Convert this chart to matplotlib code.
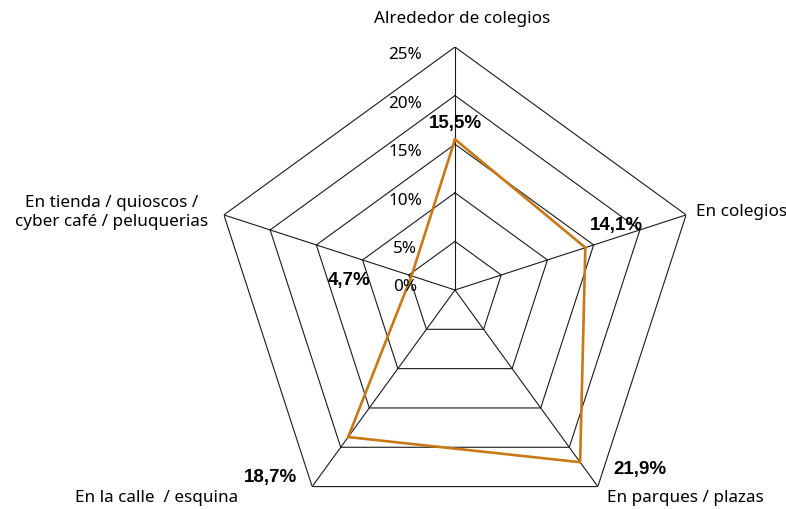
import numpy as np
import matplotlib
matplotlib.use("Agg")
import matplotlib.pyplot as plt

# lugares donde se reporta el consumo (%)
categories = [
    "Alrededor de colegios",
    "En colegios",
    "En parques / plazas",
    "En la calle  / esquina",
    "En tienda / quioscos /\ncyber café / peluquerias",
]
values = [15.5, 14.1, 21.9, 18.7, 4.7]
levels = [0, 5, 10, 15, 20, 25]

# where each text goes, relative to its anchor (pixels)
value_offsets = [(0, 17), (31, 23), (60, -6), (-78, -39), (-62, -4)]
cat_offsets = [(7, 29), (10, 4), (9, -10), (-74, -10), (-112, 3)]
cat_align = ["center", "left", "left", "right", "center"]

line_color = "#C87814"
grid_color = "#1a1a1a"

fig = plt.figure(figsize=(7.86, 5.10), dpi=100)
ax = fig.add_axes([212 / 786, -24 / 510, 486 / 786, 486 / 510], polar=True)
ax.set_theta_offset(np.pi / 2)
ax.set_theta_direction(-1)
ax.set_ylim(0, 25)
ax.grid(False)
ax.set_xticks([])
ax.set_yticks([])
ax.spines["polar"].set_visible(False)
ax.patch.set_visible(False)

n = len(categories)
angles = np.arange(n) * 2 * np.pi / n
closed = np.append(angles, angles[0])

# pentagon grid and spokes
for lv in levels[1:]:
    ax.plot(closed, [lv] * (n + 1), color=grid_color, lw=0.8, zorder=1)
for a in angles:
    ax.plot([a, a], [0, levels[-1]], color=grid_color, lw=0.8, zorder=1)

# series
ax.plot(closed, values + values[:1], color=line_color, lw=1.9, zorder=3)

# radial tick labels along the top spoke
tick_font = dict(family=["Noto Sans", "DejaVu Sans"], fontsize=12.3)
for lv in levels:
    dy = 4 if lv == 0 else -7
    ax.annotate(f"{lv}%", xy=(0, lv), xytext=(-50, dy), textcoords="offset pixels",
                ha="center", va="center", annotation_clip=False, **tick_font)

# value labels
for a, v, off in zip(angles, values, value_offsets):
    ax.annotate(f"{v:.1f}".replace(".", ",") + "%", xy=(a, v), xytext=off,
                textcoords="offset pixels", ha="center", va="center",
                family=["Liberation Sans", "DejaVu Sans"], fontweight="bold",
                fontsize=13.5, annotation_clip=False, zorder=4)

# category labels at the outer vertices
for a, cat, off, ha in zip(angles, categories, cat_offsets, cat_align):
    ax.annotate(cat, xy=(a, levels[-1]), xytext=off, textcoords="offset pixels",
                ha=ha, va="center", multialignment="center", linespacing=1.25,
                annotation_clip=False, **tick_font)

fig.savefig("out.png", dpi=100)
